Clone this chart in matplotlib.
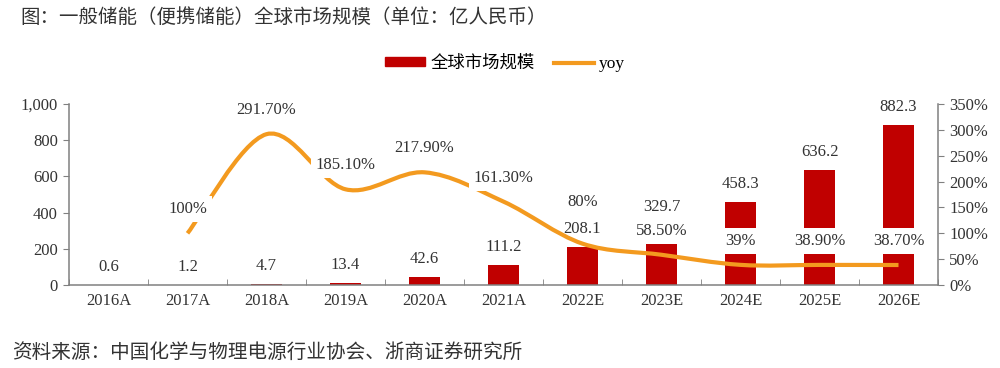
import matplotlib
matplotlib.use("Agg")
import matplotlib.pyplot as plt
from matplotlib.path import Path
from matplotlib.patches import PathPatch, Patch
from matplotlib.lines import Line2D
from matplotlib.ticker import FuncFormatter, FixedLocator

years = ["2016A", "2017A", "2018A", "2019A", "2020A", "2021A",
         "2022E", "2023E", "2024E", "2025E", "2026E"]
market = [0.6, 1.2, 4.7, 13.4, 42.6, 111.2, 208.1, 329.7, 458.3, 636.2, 882.3]
yoy = [None, 100, 291.7, 185.1, 217.9, 161.3, 80, 58.5, 39, 38.9, 38.7]
yoy_labels = ["", "100%", "291.70%", "185.10%", "217.90%", "161.30%",
              "80%", "58.50%", "39%", "38.90%", "38.70%"]

BAR = "#C00000"
ORANGE = "#F39A1F"
GRAY = "#808080"
num_font = "Liberation Serif"
cjk = ["Noto Sans CJK SC", "DejaVu Sans"]

fig = plt.figure(figsize=(10, 3.68), dpi=100)
ax = fig.add_axes([0.069, 0.2255, 0.869, 0.4918])
ax2 = ax.twinx()

x = list(range(len(years)))
ax.bar(x, market, width=0.4, color=BAR, zorder=2)
ax.set_ylim(0, 1000)
ax.set_xlim(-0.5, len(years) - 0.5)
ax2.set_ylim(0, 350)

# smoothed yoy line (Excel style bezier through the points)
pts = [(i, v) for i, v in zip(x, yoy) if v is not None]
verts = [pts[0]]
codes = [Path.MOVETO]
for i in range(len(pts) - 1):
    p0 = pts[i - 1] if i > 0 else pts[i]
    p1 = pts[i]
    p2 = pts[i + 1]
    p3 = pts[i + 2] if i + 2 < len(pts) else pts[i + 1]
    c1 = (p1[0] + (p2[0] - p0[0]) / 6, p1[1] + (p2[1] - p0[1]) / 6)
    c2 = (p2[0] - (p3[0] - p1[0]) / 6, p2[1] - (p3[1] - p1[1]) / 6)
    verts += [c1, c2, p2]
    codes += [Path.CURVE4] * 3
ax2.add_patch(PathPatch(Path(verts, codes), facecolor="none", edgecolor=ORANGE,
                        lw=3, capstyle="butt", zorder=3))

box = dict(boxstyle="square,pad=0.3", fc="white", ec="none")
for i, v in enumerate(market):
    ax2.annotate(f"{v}", xy=(i, v), xycoords=ax.transData, xytext=(0, 18),
                 textcoords="offset pixels", ha="center", va="center",
                 fontsize=12, family=num_font, color="#333333", zorder=4)
for i, (v, lab) in enumerate(zip(yoy, yoy_labels)):
    if v is None:
        continue
    off = 42 if i == 6 else 24
    ax2.annotate(lab, xy=(i, v), xytext=(0, off), textcoords="offset pixels",
                 ha="center", va="center", fontsize=12, family=num_font,
                 color="#333333", bbox=box, zorder=5)

for a in (ax, ax2):
    a.spines["top"].set_visible(False)
    for s in a.spines.values():
        s.set_color(GRAY)
        s.set_linewidth(1.1)
ax.spines["right"].set_visible(False)
ax2.spines["left"].set_visible(False)
ax2.spines["bottom"].set_visible(False)

ax.set_yticks(range(0, 1001, 200))
ax.yaxis.set_major_formatter(FuncFormatter(lambda v, p: f"{v:,.0f}"))
ax2.set_yticks(range(0, 351, 50))
ax2.yaxis.set_major_formatter(FuncFormatter(lambda v, p: f"{v:.0f}%"))
ax.set_xticks(x)
ax.set_xticklabels(years)
ax.xaxis.set_minor_locator(FixedLocator([i - 0.5 for i in range(len(years) + 1)]))
ax.tick_params(axis="x", which="major", length=0, pad=6)
ax.tick_params(axis="x", which="minor", direction="in", length=4, color=GRAY)
ax.tick_params(axis="y", length=4, color=GRAY, pad=4)
ax2.tick_params(axis="y", length=4, color=GRAY, pad=4)
for lab in ax.get_xticklabels() + ax.get_yticklabels() + ax2.get_yticklabels():
    lab.set_fontfamily(num_font)
    lab.set_fontsize(12)
    lab.set_color("#333333")

handles = [Patch(color=BAR), Line2D([0], [0], color=ORANGE, lw=3)]
leg = fig.legend(handles, ["全球市场规模", "yoy"], loc="center", ncol=2,
                 bbox_to_anchor=(0.505, 0.829), frameon=False,
                 prop={"family": cjk, "size": 12.5}, handlelength=2.3,
                 handleheight=0.4, columnspacing=1.1, handletextpad=0.3)
leg.get_texts()[1].set_fontfamily(num_font)

fig.text(0.02, 1 - 17 / 368, "图：一般储能（便携储能）全球市场规模（单位：亿人民币）",
         family=cjk, fontsize=14, color="#333333", va="center")
fig.text(0.012, 1 - 352 / 368, "资料来源：中国化学与物理电源行业协会、浙商证券研究所",
         family=cjk, fontsize=14.1, color="#333333", va="center")

fig.savefig("out.png", dpi=100)
